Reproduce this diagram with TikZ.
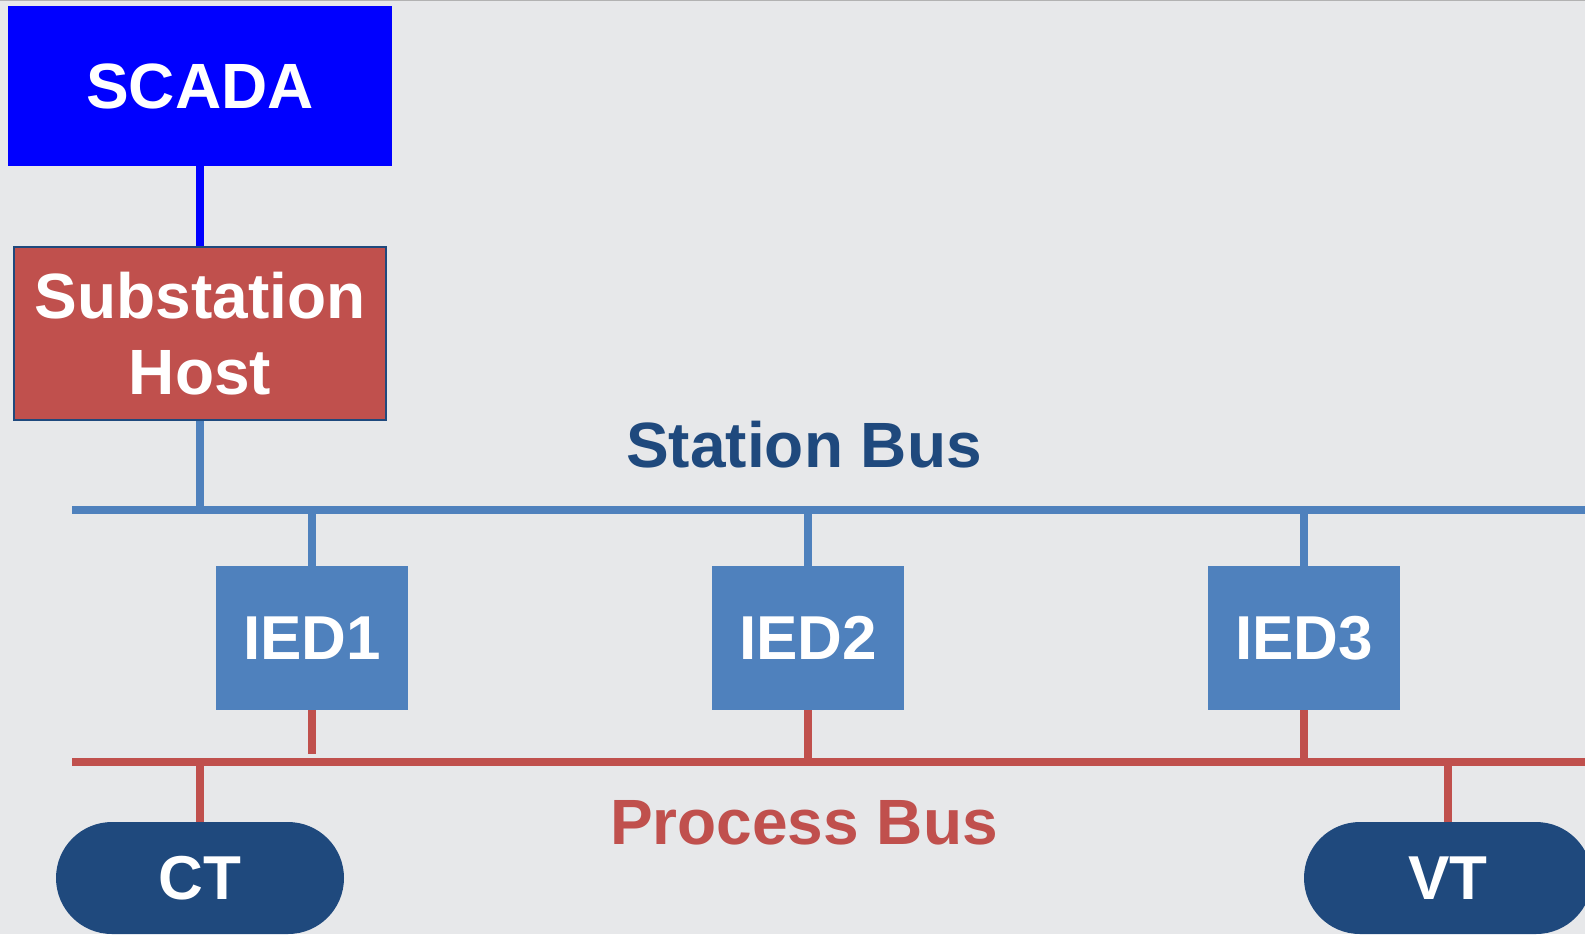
\documentclass[tikz,border=0pt]{standalone}
\usepackage{fontspec}
\setmainfont{Liberation Sans}
\usetikzlibrary{positioning, calc}
\definecolor{BusBlau}{RGB}{79,129,189}
\definecolor{BusRot}{RGB}{192,80,77}
\definecolor{Dunkelblau}{RGB}{31,73,125}
\definecolor{Hintergrund}{RGB}{231,232,234}

\begin{document}
\begin{tikzpicture}[x=0.5pt, y=-0.5pt, font=\bfseries\fontsize{32}{38}\selectfont]
    \clip (0,0) rectangle (1585,934);
    \fill[Hintergrund] (0,0) rectangle (1585,934);
    \draw[gray!60, line width=1pt] (0,0) -- (1585,0);

    \node[shape=rectangle, fill=blue, text=white, inner sep=0pt, minimum width=192pt, minimum height=80pt] (SCADA) at (200,86) {SCADA};
    \node[shape=rectangle, fill=BusRot, draw=Dunkelblau, line width=1pt, text=white, inner sep=0pt, minimum width=186pt, minimum height=86.5pt, align=center] (Host) at (200,333.5) {Substation\\Host};
    \node[shape=rectangle, fill=BusBlau, text=white, inner sep=0pt, minimum width=96pt, minimum height=72pt, font=\bfseries\fontsize{31}{38}\selectfont] (IED1) at (312,638) {IED1};
    \node[shape=rectangle, fill=BusBlau, text=white, inner sep=0pt, minimum width=96pt, minimum height=72pt, font=\bfseries\fontsize{31}{38}\selectfont] (IED2) at (808,638) {IED2};
    \node[shape=rectangle, fill=BusBlau, text=white, inner sep=0pt, minimum width=96pt, minimum height=72pt, font=\bfseries\fontsize{31}{38}\selectfont] (IED3) at (1304,638) {IED3};
    \node[shape=rectangle, rounded corners=28pt, fill=Dunkelblau, text=white, inner sep=0pt, minimum width=144pt, minimum height=56pt, font=\bfseries\fontsize{31}{38}\selectfont] (CT) at (200,878) {CT};
    \node[shape=rectangle, rounded corners=28pt, fill=Dunkelblau, text=white, inner sep=0pt, minimum width=144pt, minimum height=56pt, font=\bfseries\fontsize{31}{38}\selectfont] (VT) at (1448,878) {VT};
    \node[text=Dunkelblau] (StationBus) at (804,445) {Station Bus};
    \node[text=BusRot] (ProcessBus) at (804,823) {Process Bus};

    \coordinate (SB) at (72,510);
    \coordinate (SBEnde) at (1600,510);
    \coordinate (PB) at (72,762);
    \coordinate (PBEnde) at (1600,762);
    \coordinate (IED1Ende) at (312,754);

    \path[line width=4pt, blue]    (SCADA) edge (Host);
    \path[line width=4pt, BusBlau] (SB) edge (SBEnde)
                                   (Host) edge (Host |- SB)
                                   (IED1) edge (IED1 |- SB)
                                   (IED2) edge (IED2 |- SB)
                                   (IED3) edge (IED3 |- SB);
    \path[line width=4pt, BusRot]  (PB) edge (PBEnde)
                                   (IED1) edge (IED1Ende)
                                   (IED2) edge (IED2 |- PB)
                                   (IED3) edge (IED3 |- PB)
                                   (CT) edge (CT |- PB)
                                   (VT) edge (VT |- PB);
\end{tikzpicture}
\end{document}
